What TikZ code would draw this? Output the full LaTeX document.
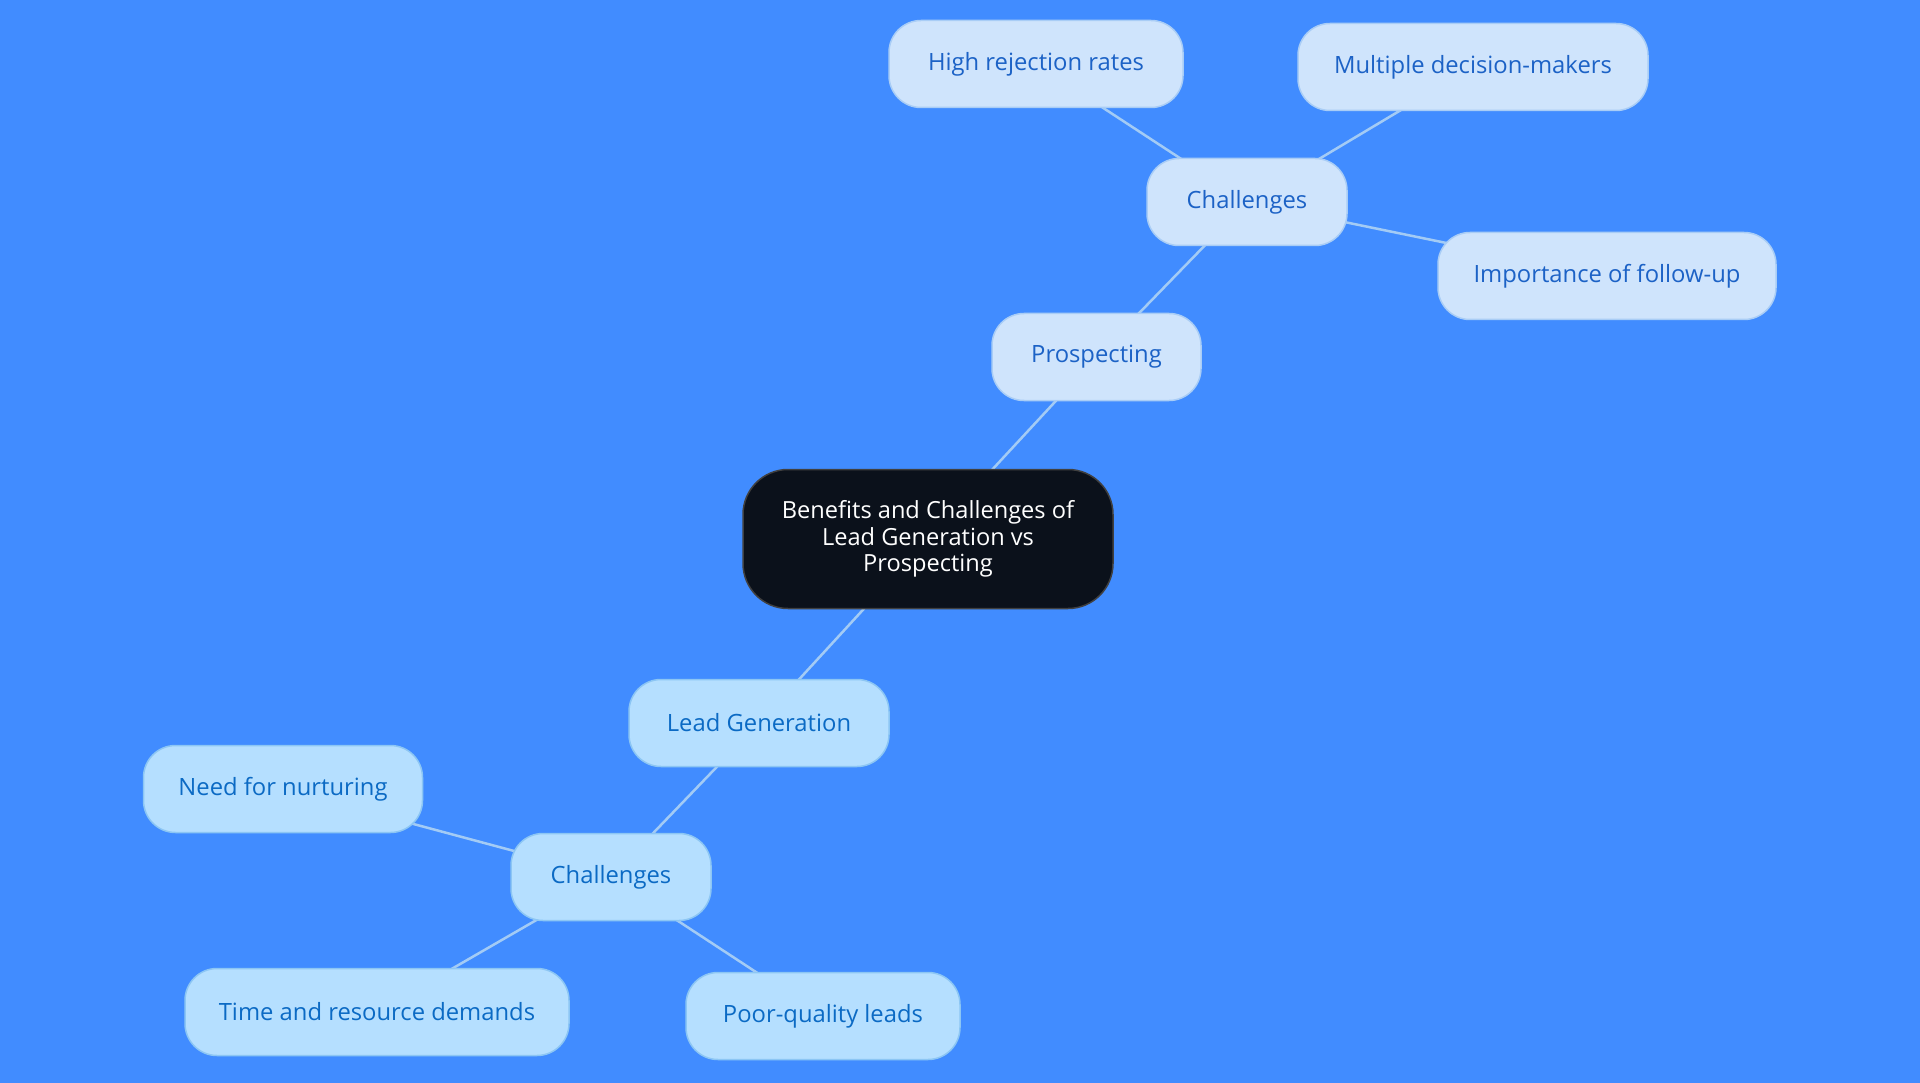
\documentclass[tikz,border=0pt]{standalone}
\usepackage{fontspec}
\setmainfont{Open Sans}
\usetikzlibrary{backgrounds}
\definecolor{bg}{HTML}{418CFF}
\definecolor{edge}{HTML}{A3CBF5}
\definecolor{topfill}{HTML}{CFE4FC}
\definecolor{topline}{HTML}{A9CDF6}
\definecolor{toptext}{HTML}{1C62C6}
\definecolor{botfill}{HTML}{B5DFFF}
\definecolor{botline}{HTML}{8CC6F4}
\definecolor{bottext}{HTML}{0B6AC4}
\definecolor{central}{HTML}{0B111B}
\tikzset{
  bub/.style={draw, line width=1.5pt, rounded corners=32pt, minimum height=87pt, inner sep=0pt, font=\fontsize{23.8}{28}\selectfont, align=center},
  topbub/.style={bub, fill=topfill, draw=topline, text=toptext},
  botbub/.style={bub, fill=botfill, draw=botline, text=bottext},
  link/.style={draw=edge, line width=2.5pt}
}
\begin{document}
\begin{tikzpicture}[x=1pt,y=-1pt]
\useasboundingbox (0,0) rectangle (1920,1083);
% nodes
\node[draw=black!75, line width=1.5pt, fill=central, text=white, rounded corners=45pt, minimum width=370pt, minimum height=139pt, inner sep=0pt, align=center, font=\fontsize{23.6}{26.3}\selectfont] (c) at (928,539) {Benefits and Challenges of\\Lead Generation vs\\Prospecting};
\node[topbub, minimum width=209pt] (p) at (1096.5,357) {Prospecting};
\node[topbub, minimum width=200pt] (pc) at (1247,202) {Challenges};
\node[topbub, minimum width=294pt] (p1) at (1036,64) {High rejection rates};
\node[topbub, minimum width=350pt] (p2) at (1473,67) {Multiple decision-makers};
\node[topbub, minimum width=338pt] (p3) at (1607,276) {Importance of follow-up};
\node[botbub, minimum width=260pt] (l) at (759,723) {Lead Generation};
\node[botbub, minimum width=200pt] (lc) at (611,877) {Challenges};
\node[botbub, minimum width=279pt] (l1) at (283,789) {Need for nurturing};
\node[botbub, minimum width=384pt] (l2) at (377,1012) {Time and resource demands};
\node[botbub, minimum width=274pt] (l3) at (823,1016) {Poor-quality leads};
% edges
\begin{scope}[on background layer]
\fill[bg] (0,0) rectangle (1920,1083);
\draw[link] (c.center) -- (p.center);
\draw[link] (p.center) -- (pc.center);
\draw[link] (pc.center) -- (p1.center);
\draw[link] (pc.center) -- (p2.center);
\draw[link] (pc.center) -- (p3.center);
\draw[link] (c.center) -- (l.center);
\draw[link] (l.center) -- (lc.center);
\draw[link] (lc.center) -- (l1.center);
\draw[link] (lc.center) -- (l2.center);
\draw[link] (lc.center) -- (l3.center);
\end{scope}
\end{tikzpicture}
\end{document}
